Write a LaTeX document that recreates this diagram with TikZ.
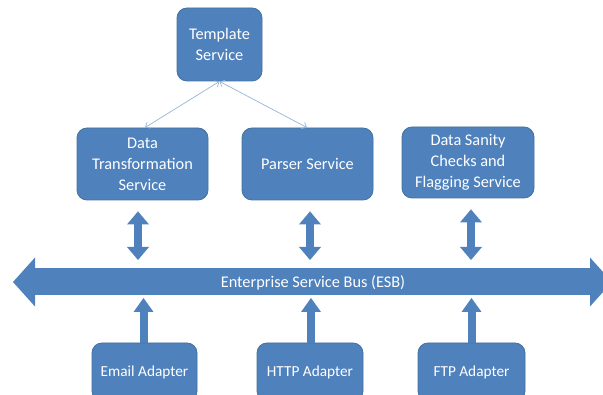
\documentclass[tikz,border=0pt]{standalone}
\usepackage{fontspec}
\setmainfont{Carlito}
\usetikzlibrary{arrows.meta}

\definecolor{boxblue}{HTML}{4F81BD}
\definecolor{boxedge}{HTML}{41719C}
\definecolor{linkblue}{HTML}{95B3D7}

\begin{document}
\begin{tikzpicture}[x=1pt, y=-1pt,
    every node/.style={font=\fontsize{16.3}{21}\selectfont},
    svcbox/.style={draw=boxedge, fill=boxblue, text=white, rounded corners=10pt,
        align=center, inner sep=0pt, line width=0.8pt},
    adapter/.style={svcbox, font=\fontsize{15.3}{20}\selectfont},
    link/.style={draw=linkblue, line width=0.7pt,
        {Straight Barb[length=4pt,width=7pt]}-{Straight Barb[length=4pt,width=7pt]}},
    busarrow/.style={draw=boxblue, line width=27pt,
        {Triangle[length=22pt,width=49pt,line width=0pt]}-{Triangle[length=22pt,width=49pt,line width=0pt]}},
    dblarrow/.style={draw=boxblue, line width=8pt,
        {Triangle[length=13pt,width=22pt,line width=0pt]}-{Triangle[length=13pt,width=22pt,line width=0pt]}},
    uparrow/.style={draw=boxblue, line width=8pt,
        -{Triangle[length=14pt,width=20pt,line width=0pt]}}]

\clip (0,0) rectangle (603,395);

% --- services ---
\node[svcbox, minimum width=85pt, minimum height=73pt] (tmpl) at (219.5,44.5) {Template\\Service};
\node[svcbox, minimum width=131pt, minimum height=72pt] (dts) at (142.5,164) {Data\\Transformation\\Service};
\node[svcbox, minimum width=131pt, minimum height=72pt] (psr) at (307.5,164) {Parser Service};
\node[svcbox, minimum width=132pt, minimum height=71pt] (dsc) at (468,162.5) {Data Sanity\\Checks and\\Flagging Service};

% template links
\draw[link] (tmpl.south) -- ([xshift=2.5pt]dts.north);
\draw[link] (tmpl.south) -- ([xshift=-0.5pt]psr.north);

% --- bus ---
\coordinate (busL) at (13,282);
\coordinate (busR) at (612,282);
\draw[busarrow] (busL) -- (busR);
\node[text=white] (esb) at (313,283) {Enterprise Service Bus (ESB)};

% services <-> bus
\draw[dblarrow, shorten <=11pt, shorten >=22pt] ([xshift=-4.5pt]dts.south) -- ([xshift=-4.5pt]dts.south |- busL);
\draw[dblarrow, shorten <=11pt, shorten >=22pt] ([xshift=2.5pt]psr.south) -- ([xshift=2.5pt]psr.south |- busL);
\draw[dblarrow, shorten <=11pt, shorten >=22pt] ([xshift=3pt]dsc.south) -- ([xshift=3pt]dsc.south |- busL);

% --- adapters ---
\node[adapter, minimum width=105pt, minimum height=58pt] (email) at (144.5,372) {Email Adapter};
\node[adapter, minimum width=106pt, minimum height=58pt] (http) at (310,372) {HTTP Adapter};
\node[adapter, minimum width=107pt, minimum height=58pt] (ftp) at (471.5,372) {FTP Adapter};

% adapters -> bus
\draw[uparrow, shorten >=16pt] ([xshift=-1pt]email.north) -- ([xshift=-1pt]email.north |- busL);
\draw[uparrow, shorten >=16pt] ([xshift=1pt]http.north) -- ([xshift=1pt]http.north |- busL);
\draw[uparrow, shorten >=16pt] (ftp.north) -- (ftp.north |- busL);

\end{tikzpicture}
\end{document}
